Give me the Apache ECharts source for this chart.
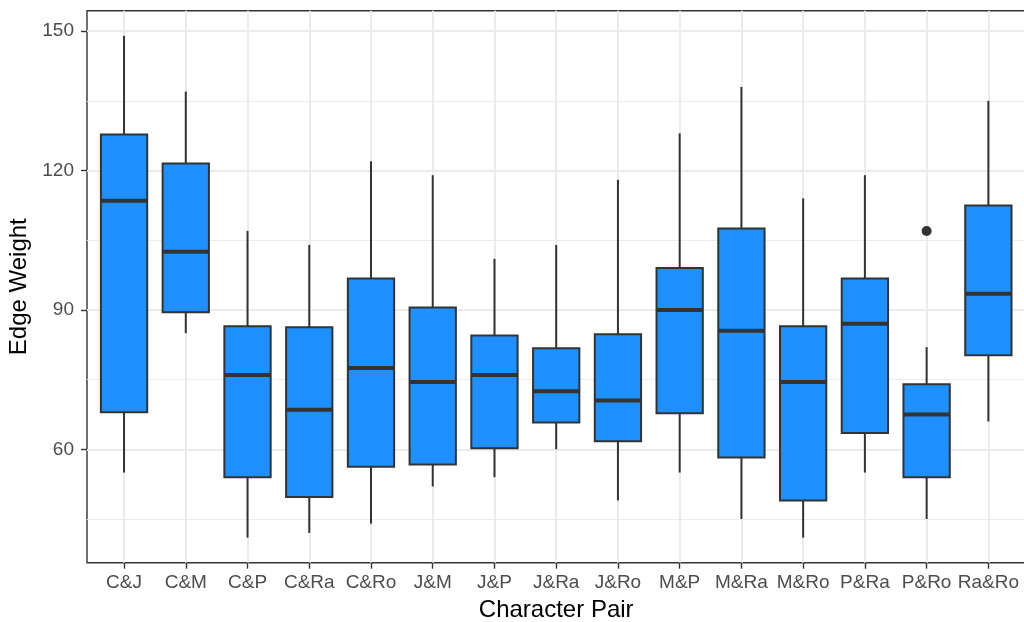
<!DOCTYPE html>
<html>
<head>
<meta charset="utf-8">
<title>Edge Weight by Character Pair</title>
<script src="https://cdn.jsdelivr.net/npm/echarts@6/dist/echarts.min.js"></script>
<style>
  html, body { margin: 0; padding: 0; background: #ffffff; }
  #chart { width: 1024px; height: 622px; }
</style>
</head>
<body>
<div id="chart"></div>
<script>
// Box-and-whisker summary of edge weights per character pair
const pairs = ['C&J', 'C&M', 'C&P', 'C&Ra', 'C&Ro', 'J&M', 'J&P', 'J&Ra', 'J&Ro', 'M&P', 'M&Ra', 'M&Ro', 'P&Ra', 'P&Ro', 'Ra&Ro'];
const lowWhisker  = [55, 85, 41, 42, 44, 52, 54, 60, 49, 55, 45, 41, 55, 45, 66];
const q1          = [68, 89.5, 54, 49.75, 56.25, 56.75, 60.25, 65.75, 61.75, 67.75, 58.25, 49, 63.5, 54, 80.25];
const median      = [113.5, 102.5, 76, 68.5, 77.5, 74.5, 76, 72.5, 70.5, 90, 85.5, 74.5, 87, 67.5, 93.5];
const q3          = [127.75, 121.5, 86.5, 86.25, 96.75, 90.5, 84.5, 81.75, 84.75, 99, 107.5, 86.5, 96.75, 74, 112.5];
const highWhisker = [149, 137, 107, 104, 122, 119, 101, 104, 118, 128, 138, 114, 119, 82, 135];
// Points beyond the whiskers: [pair, value]
const outlierPairs  = ['P&Ro'];
const outlierValues = [107];

const yMajorTicks = [60, 90, 120, 150];
const yMinorTicks = [45, 75, 105, 135];

// Category positions on a continuous axis (1..n) so the panel can carry ggplot-like padding
const positions = pairs.map((_, i) => i + 1);
const boxData = pairs.map((_, i) => [positions[i], lowWhisker[i], q1[i], median[i], q3[i], highWhisker[i]]);
const outlierData = outlierPairs.map((p, i) => [pairs.indexOf(p) + 1, outlierValues[i]]);

const INK = '#333333';
const GRID = '#EBEBEB';

function renderBox(params, api) {
  const x = api.value(0);
  const lo = api.coord([x, api.value(1)]);
  const b1 = api.coord([x, api.value(2)]);
  const md = api.coord([x, api.value(3)]);
  const b3 = api.coord([x, api.value(4)]);
  const hi = api.coord([x, api.value(5)]);
  const w = api.size([0.75, 0])[0];
  const cx = lo[0];
  const left = cx - w / 2;
  const lineStyle = { stroke: INK, lineWidth: 2 };
  return {
    type: 'group',
    children: [
      { type: 'line', shape: { x1: cx, y1: lo[1], x2: cx, y2: b1[1] }, style: lineStyle },
      { type: 'line', shape: { x1: cx, y1: b3[1], x2: cx, y2: hi[1] }, style: lineStyle },
      { type: 'rect', shape: { x: left, y: b3[1], width: w, height: b1[1] - b3[1] },
        style: { fill: '#1E90FF', stroke: INK, lineWidth: 2 } },
      { type: 'line', shape: { x1: left, y1: md[1], x2: left + w, y2: md[1] },
        style: { stroke: INK, lineWidth: 4 } }
    ]
  };
}

const chart = echarts.init(document.getElementById('chart'), null, { renderer: 'canvas' });
chart.setOption({
  animation: false,
  backgroundColor: '#ffffff',
  textStyle: { fontFamily: 'Liberation Sans, Arial, sans-serif' },
  grid: {
    left: 87, top: 10.7, width: 938.4, height: 552,
    show: true, borderColor: INK, borderWidth: 1.4, backgroundColor: 'transparent',
    containLabel: false,
    outerBoundsMode: 'none'
  },
  xAxis: {
    type: 'value',
    min: 0.4, max: 15.6,
    name: 'Character Pair',
    nameLocation: 'middle',
    nameGap: 36,
    nameTextStyle: { color: '#000000', fontSize: 24, fontFamily: 'Liberation Sans' },
    axisLine: { show: false },
    axisTick: { show: true, length: 6, customValues: positions, lineStyle: { color: INK, width: 1.4 } },
    axisLabel: {
      show: true, margin: 11, customValues: positions, color: '#4D4D4D', fontSize: 19,
      fontFamily: 'Liberation Sans',
      formatter: (v) => pairs[Math.round(v) - 1] || ''
    },
    splitLine: { show: true, lineStyle: { color: GRID, width: 2 } }
  },
  yAxis: [
    {
      type: 'value',
      min: 35.6, max: 154.4,
      name: 'Edge Weight',
      nameLocation: 'middle',
      nameGap: 49,
      nameRotate: 90,
      nameTextStyle: { color: '#000000', fontSize: 24, fontFamily: 'Liberation Sans' },
      axisLine: { show: false },
      axisTick: { show: true, length: 6, customValues: yMajorTicks, lineStyle: { color: INK, width: 1.4 } },
      axisLabel: { show: true, margin: 13, customValues: yMajorTicks, color: '#4D4D4D', fontSize: 19, fontFamily: 'Liberation Sans' },
      splitLine: { show: true, lineStyle: { color: GRID, width: 2 } }
    },
    {
      type: 'value',
      min: 35.6, max: 154.4,
      position: 'left',
      axisLine: { show: false },
      axisTick: { show: false, customValues: yMinorTicks },
      axisLabel: { show: false, customValues: yMinorTicks },
      splitLine: { show: true, lineStyle: { color: GRID, width: 1.2 } }
    }
  ],
  series: [
    {
      type: 'custom',
      name: 'boxes',
      renderItem: renderBox,
      encode: { x: 0, y: [1, 2, 3, 4, 5] },
      data: boxData,
      z: 3
    },
    {
      type: 'scatter',
      name: 'outliers',
      data: outlierData,
      symbol: 'circle',
      symbolSize: 10,
      itemStyle: { color: INK, opacity: 1 },
      z: 4
    }
  ]
});
</script>
</body>
</html>
